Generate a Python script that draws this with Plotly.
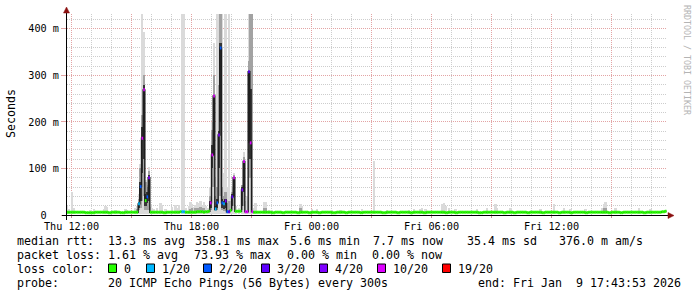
import pandas as pd
import plotly.graph_objects as go

FONT = "DejaVu Sans Mono"
DAY = {"Thu": "2026-01-08", "Fri": "2026-01-09"}


def ts(s):
    d, t = s.split()
    return pd.Timestamp(f"{DAY[d]} {t}")


# ---------------- data ----------------
first_sample = "Thu 11:47:30"   # centre of first 300 s step
step_s = 300

# median rtt (ms), one row per clock hour
median_ms = (
    [6, 6, 6] +                                              # Thu 11
    [6, 6, 6, 6, 6, 6, 6, 6, 5, 5, 5, 5] +                   # Thu 12
    [5, 5, 6, 6, 6, 6, 6, 6, 6, 6, 5, 5] +                   # Thu 13
    [6, 6, 6, 6, 6, 5, 5, 5, 6, 6, 6, 6] +                   # Thu 14
    [6, 6, 6, 6, 24, 61, 165, 269, 31, 39, 80, 6] +          # Thu 15
    [6, 6, 6, 6, 6, 6, 6, 5, 5, 6, 6, 6] +                   # Thu 16
    [6, 6, 6, 6, 6, 7, 7, 7, 6, 6, 6, 6] +                   # Thu 17
    [6, 6, 6, 7, 7, 7, 7, 6, 7, 7, 8, 26] +                  # Thu 18
    [129, 256, 13, 26, 172, 359, 26, 24, 30, 7, 7, 10] +     # Thu 19
    [39, 80, 8, 8, 8, 8, 54, 115, 7, 7, 308, 155] +          # Thu 20
    [7, 6, 6, 6, 6, 6, 6, 6, 6, 6, 6, 6] +                   # Thu 21
    [5, 5, 6, 6, 6, 6, 5, 5, 6, 6, 6, 6] +                   # Thu 22
    [6, 6, 6, 5, 5, 6, 6, 6, 6, 6, 5, 5] +                   # Thu 23
    [6, 6, 6, 6, 5, 5, 6, 6, 6, 6, 6, 6] +                   # Fri 00
    [5, 5, 5, 6, 6, 6, 6, 6, 5, 5, 6, 6] +                   # Fri 01
    [6, 6, 6, 6, 6, 5, 5, 6, 6, 6, 6, 6] +                   # Fri 02
    [6, 6, 6, 6, 6, 6, 5, 5, 5, 6, 6, 6] +                   # Fri 03
    [6, 6, 6, 5, 5, 6, 6, 6, 6, 6, 6, 5] +                   # Fri 04
    [5, 6, 6, 6, 6, 6, 6, 5, 5, 6, 6, 6] +                   # Fri 05
    [6, 6, 6, 6, 6, 6, 6, 6, 5, 5, 6, 6] +                   # Fri 06
    [6, 6, 5, 5, 6, 6, 6, 6, 6, 6, 6, 6] +                   # Fri 07
    [6, 6, 6, 6, 5, 5, 5, 6, 6, 6, 6, 6] +                   # Fri 08
    [6, 6, 6, 6, 6, 6, 6, 5, 5, 6, 6, 6] +                   # Fri 09
    [6, 5, 5, 6, 6, 6, 6, 6, 6, 5, 5, 6] +                   # Fri 10
    [6, 6, 6, 6, 6, 6, 5, 5, 6, 6, 6, 6] +                   # Fri 11
    [6, 6, 6, 6, 5, 5, 6, 6, 6, 6, 6, 5] +                   # Fri 12
    [5, 6, 6, 6, 6, 6, 6, 6, 5, 5, 6, 6] +                   # Fri 13
    [6, 6, 6, 6, 6, 6, 6, 6, 6, 6, 5, 5] +                   # Fri 14
    [6, 6, 6, 6, 6, 5, 5, 6, 6, 6, 6, 6] +                   # Fri 15
    [6, 6, 6, 6, 6, 6, 6, 5, 5, 6, 6, 6] +                   # Fri 16
    [6, 6, 6, 6, 6, 6, 7, 7, 8]                              # Fri 17
)

# packet loss (x/20) for the steps that had any
loss_times = ["Thu 15:22:30", "Thu 15:27:30", "Thu 15:32:30", "Thu 15:37:30",
              "Thu 15:47:30", "Thu 15:52:30", "Thu 17:32:30", "Thu 17:37:30",
              "Thu 18:57:30", "Thu 19:02:30", "Thu 19:07:30", "Thu 19:12:30",
              "Thu 19:17:30", "Thu 19:22:30", "Thu 19:27:30", "Thu 19:32:30",
              "Thu 19:37:30", "Thu 19:42:30", "Thu 19:47:30", "Thu 19:52:30",
              "Thu 20:02:30", "Thu 20:07:30", "Thu 20:32:30", "Thu 20:37:30",
              "Thu 20:42:30", "Thu 20:47:30", "Thu 20:52:30", "Thu 20:57:30",
              "Thu 21:02:30"]
loss_codes = [1, 2, 10, 10, 2, 4, 1, 1,
              10, 10, 10, 1, 2, 4, 2, 2,
              1, 4, 2, 3, 3, 10, 4, 10,
              10, 10, 3, 10, 10]

smoke_floor_ms = 3

# light smoke (all pings) on quiet steps: top of the spread
base_smoke_times = [
    "Thu 11:47:30", "Thu 11:52:30", "Thu 12:02:30", "Thu 12:07:30", "Thu 12:57:30",
    "Thu 13:07:30", "Thu 13:37:30", "Thu 13:42:30", "Thu 13:47:30", "Thu 14:12:30",
    "Thu 14:42:30", "Thu 14:47:30", "Thu 15:12:30", "Thu 15:17:30", "Thu 15:57:30",
    "Thu 16:02:30", "Thu 16:07:30", "Thu 16:17:30", "Thu 16:27:30", "Thu 16:32:30",
    "Thu 16:42:30", "Thu 17:02:30", "Thu 17:12:30", "Thu 17:17:30", "Thu 17:22:30",
    "Thu 17:32:30", "Thu 17:37:30", "Thu 17:42:30", "Thu 17:52:30", "Thu 17:57:30",
    "Thu 18:02:30", "Thu 18:07:30", "Thu 18:12:30", "Thu 18:17:30", "Thu 18:22:30",
    "Thu 18:27:30", "Thu 18:32:30", "Thu 18:37:30", "Thu 18:42:30", "Thu 18:47:30",
    "Thu 18:52:30", "Thu 20:12:30", "Thu 20:22:30", "Thu 20:42:30", "Thu 20:47:30",
    "Thu 21:07:30", "Thu 21:12:30", "Thu 21:37:30", "Thu 21:42:30", "Thu 21:52:30",
    "Thu 22:02:30", "Thu 23:27:30", "Thu 23:32:30", "Fri 00:02:30", "Fri 00:17:30",
    "Fri 01:02:30", "Fri 01:27:30", "Fri 02:32:30", "Fri 03:07:30", "Fri 03:47:30",
    "Fri 04:52:30", "Fri 05:07:30", "Fri 05:27:30", "Fri 05:32:30", "Fri 05:42:30",
    "Fri 06:32:30", "Fri 06:37:30", "Fri 06:42:30", "Fri 06:52:30", "Fri 07:12:30",
    "Fri 08:17:30", "Fri 08:47:30", "Fri 09:12:30", "Fri 09:17:30", "Fri 09:57:30",
    "Fri 11:27:30", "Fri 12:07:30", "Fri 12:37:30", "Fri 12:57:30", "Fri 13:42:30",
    "Fri 14:32:30", "Fri 14:37:30", "Fri 14:42:30", "Fri 15:12:30", "Fri 16:22:30",
    "Fri 16:57:30",
]
base_smoke_hi = [
    20, 12, 50, 15, 10,
    13, 12, 20, 18, 10,
    12, 11, 16, 20, 18,
    15, 12, 14, 25, 22,
    12, 18, 22, 15, 22,
    440, 440, 14, 20, 29,
    24, 18, 22, 29, 26,
    30, 22, 28, 20, 16,
    14, 20, 15, 30, 40,
    15, 25, 29, 27, 11,
    10, 24, 20, 13, 12,
    11, 11, 12, 116, 11,
    11, 12, 13, 15, 13,
    24, 26, 20, 16, 13,
    13, 15, 24, 15, 15,
    13, 24, 15, 13, 13,
    16, 24, 28, 15, 14,
    13,
]

# mid-grey smoke on quiet steps
base_mid_times = ["Thu 15:17:30", "Thu 17:57:30", "Thu 18:02:30", "Thu 18:12:30",
                  "Thu 18:17:30", "Thu 18:22:30", "Thu 18:27:30", "Thu 18:32:30",
                  "Thu 18:37:30", "Thu 19:47:30", "Thu 19:52:30", "Thu 21:37:30",
                  "Thu 21:42:30", "Thu 23:27:30", "Fri 14:37:30", "Fri 14:42:30"]
base_mid_hi = [12, 12, 14, 15, 16, 14, 18, 15, 16, 25, 30, 15, 14, 15, 14, 16]

# smoke spread on the disturbed steps (ms)
spike_times = ["Thu 15:22:30", "Thu 15:27:30", "Thu 15:32:30", "Thu 15:37:30",
               "Thu 15:42:30", "Thu 15:47:30", "Thu 15:52:30", "Thu 18:57:30",
               "Thu 19:02:30", "Thu 19:07:30", "Thu 19:12:30", "Thu 19:17:30",
               "Thu 19:22:30", "Thu 19:27:30", "Thu 19:32:30", "Thu 19:37:30",
               "Thu 19:42:30", "Thu 19:47:30", "Thu 19:52:30", "Thu 19:57:30",
               "Thu 20:02:30", "Thu 20:07:30", "Thu 20:32:30", "Thu 20:37:30",
               "Thu 20:52:30", "Thu 20:57:30", "Thu 21:02:30"]
spike_light_hi = [45, 110, 440, 394, 75, 65, 104, 60,
                  200, 370, 80, 440, 440, 440, 440, 90,
                  440, 60, 440, 30, 60, 90, 64, 136,
                  440, 440, 440]
spike_mid_lo = [10, 15, 30, 40, 10, 10, 10, 10,
                60, 60, 8, 10, 60, 40, 10, 8,
                8, None, None, None, 10, 20, 10, 20,
                133, 80, 8]
spike_mid_hi = [35, 100, 215, 300, 70, 60, 95, 40,
                183, 300, 40, 60, 280, 440, 60, 40,
                50, None, None, None, 50, 85, 64, 125,
                330, 440, 440]
spike_dark_lo = [15, 30, 90, 120, 20, 25, 30, 15,
                 100, 130, 10, 15, 100, 200, 15, 12,
                 15, None, None, None, 20, 40, 20, 50,
                 155, 120, None]
spike_dark_hi = [28, 70, 190, 280, 45, 50, 85, 30,
                 150, 256, 20, 35, 180, 370, 35, 30,
                 35, None, None, None, 45, 80, 60, 115,
                 308, 270, None]

loss_palette = {0: "#26ff00", 1: "#00b8ff", 2: "#0059ff", 3: "#5e00ff",
                4: "#7e00ff", 10: "#dd00ff", 19: "#ff0000"}
legend_codes = [0, 1, 2, 3, 4, 10, 19]
legend_labels = ["0", "1/20", "2/20", "3/20", "4/20", "10/20", "19/20"]

y_tick_vals = [0, 100, 200, 300, 400]
y_tick_text = ["0\u00a0\u00a0", "100 m", "200 m", "300 m", "400 m"]
x_tick_vals = ["Thu 12:00", "Thu 15:00", "Thu 18:00", "Thu 21:00", "Fri 00:00",
               "Fri 03:00", "Fri 06:00", "Fri 09:00", "Fri 12:00", "Fri 15:00"]
x_tick_text = ["Thu 12:00", "", "Thu 18:00", "", "Fri 00:00",
               "", "Fri 06:00", "", "Fri 12:00", ""]

legend_rtt = ["median rtt:", "13.3 ms avg", "358.1 ms max", "5.6 ms min",
              "7.7 ms now", "35.4 ms sd", "376.0 m am/s"]
legend_loss = ["packet loss:", "1.61 % avg", "73.93 % max", "0.00 % min", "0.00 % now"]
probe_text = "20 ICMP Echo Pings (56 Bytes) every 300s"
end_text = "end: Fri Jan\u00a0\u00a09 17:43:53 2026"

# ---------------- layout geometry (pixels) ----------------
W_FIG, H_FIG = 697, 297
L, R, T, B = 67, 30, 14, 82
PW, PH = W_FIG - L - R, H_FIG - T - B


def PX(x):
    return (x - L) / PW


def PY(y):
    return (T + PH - y) / PH


# ---------------- figure ----------------
times = pd.date_range(ts(first_sample), periods=len(median_ms), freq=f"{step_s}s")
half = pd.Timedelta(seconds=step_s / 2)
bar_w = step_s * 1000

fig = go.Figure()


def add_bars(tlist, lo, hi, color):
    xs, bases, hs = [], [], []
    for t, a, b in zip(tlist, lo, hi):
        if a is None or b is None:
            continue
        xs.append(ts(t))
        bases.append(a)
        hs.append(b - a)
    fig.add_trace(go.Bar(x=xs, y=hs, base=bases, width=bar_w,
                         marker=dict(color=color, line=dict(width=0)),
                         hoverinfo="skip"))


LIGHT, MID, DARK = "#dadada", "#a2a2a2", "#353535"
add_bars(base_smoke_times, [smoke_floor_ms] * len(base_smoke_times), base_smoke_hi, LIGHT)
add_bars(spike_times, [smoke_floor_ms] * len(spike_times), spike_light_hi, LIGHT)
add_bars(base_mid_times, [smoke_floor_ms + 1] * len(base_mid_times), base_mid_hi, MID)
add_bars(spike_times, spike_mid_lo, spike_mid_hi, MID)
add_bars(spike_times, spike_dark_lo, spike_dark_hi, DARK)

# dark median step line
fig.add_trace(go.Scatter(
    x=list(times - half) + [times[-1] + half],
    y=median_ms + [median_ms[-1]],
    mode="lines", line=dict(color="#1c1c1c", width=1.4, shape="hv"),
    hoverinfo="skip"))

# coloured median marks by loss
loss_map = {ts(t): c for t, c in zip(loss_times, loss_codes)}
for code, color in loss_palette.items():
    xs, ys = [], []
    for t, m in zip(times, median_ms):
        if loss_map.get(t, 0) == code:
            xs += [t - half, t + half, None]
            ys += [m, m, None]
    if xs:
        fig.add_trace(go.Scatter(x=xs, y=ys, mode="lines",
                                 line=dict(color=color, width=3),
                                 hoverinfo="skip"))

MAJOR = "#e3a4a4"
MINOR = "#cdcdcd"
x_start = ts("Thu 11:46:30")
x_end = x_start + pd.Timedelta(hours=30)

fig.update_xaxes(
    type="date", range=[x_start, x_end],
    tickvals=[ts(v) for v in x_tick_vals], ticktext=x_tick_text,
    showgrid=True, gridcolor=MAJOR, gridwidth=1, griddash="1px,1px",
    minor=dict(dtick=3600000, tick0=ts("Thu 00:00"), showgrid=True,
               gridcolor=MINOR, gridwidth=1, griddash="1px,1px"),
    ticks="outside", ticklen=2, tickcolor="#c89090", tickwidth=1,
    showline=False, zeroline=False, fixedrange=True,
    tickfont=dict(family=FONT, size=10.2, color="black"),
)
fig.update_yaxes(
    range=[0, 432], tickvals=y_tick_vals, ticktext=y_tick_text,
    showgrid=True, gridcolor=MAJOR, gridwidth=1, griddash="1px,1px",
    minor=dict(dtick=20, showgrid=True, gridcolor=MINOR, gridwidth=1,
               griddash="1px,1px"),
    ticks="outside", ticklen=5, tickcolor=MAJOR, tickwidth=1,
    showline=False, zeroline=False, fixedrange=True,
    tickfont=dict(family=FONT, size=10.2, color="black"),
)

AX = "#8b1010"
shapes = [
    dict(type="line", xref="paper", yref="paper", x0=PX(66.5), x1=PX(66.5),
         y0=PY(220), y1=PY(10), line=dict(color="black", width=1)),
    dict(type="line", xref="paper", yref="paper", x0=PX(62), x1=PX(669),
         y0=PY(215.5), y1=PY(215.5), line=dict(color="black", width=1)),
    dict(type="path", xref="paper", yref="paper",
         path=f"M {PX(63.5)},{PY(13)} L {PX(66.5)},{PY(7)} L {PX(69.5)},{PY(13)} Z",
         fillcolor=AX, line=dict(color=AX, width=0.5)),
    dict(type="path", xref="paper", yref="paper",
         path=f"M {PX(668)},{PY(212.5)} L {PX(674)},{PY(215.5)} L {PX(668)},{PY(218.5)} Z",
         fillcolor=AX, line=dict(color=AX, width=0.5)),
]

annotations = []


def text(x, y, s, size=11.63, color="black", angle=0, xanchor="left"):
    annotations.append(dict(
        xref="paper", yref="paper", x=PX(x), y=PY(y), text=s, showarrow=False,
        xanchor=xanchor, yanchor="middle", textangle=angle, borderpad=0,
        font=dict(family=FONT, size=size, color=color)))


# legend rows
LEG_Y = [240.7, 254.7, 268.7, 282.5]
rtt_x = [16, 106.5, 194, 289, 372, 466, 557.5]
for x, s in zip(rtt_x, legend_rtt):
    text(x, LEG_Y[0], s)
loss_x = [16, 106.5, 193, 286, 371.5]
for x, s in zip(loss_x, legend_loss):
    text(x, LEG_Y[1], s)
text(16, LEG_Y[2], "loss color:")
box_x = [108.5, 146.5, 203.5, 261.5, 319.5, 377.5, 442.5]
for bx, code, lab in zip(box_x, legend_codes, legend_labels):
    shapes.append(dict(type="rect", xref="paper", yref="paper",
                       x0=PX(bx), x1=PX(bx + 8), y0=PY(272.5), y1=PY(264),
                       fillcolor=loss_palette[code], line=dict(color="black", width=1)))
    text(bx + 14.2, LEG_Y[2], lab)
text(16, LEG_Y[3], "probe:")
text(106.5, LEG_Y[3], probe_text)
text(476.5, LEG_Y[3], end_text)

# axis title and watermark
text(11, 114, "Seconds", angle=-90, xanchor="center")
text(687, 60, "RRDTOOL / TOBI OETIKER", size=8.3, color="#b4b4b4", angle=90,
     xanchor="center")

fig.update_layout(
    width=W_FIG, height=H_FIG,
    margin=dict(l=L, r=R, t=T, b=B, pad=0),
    paper_bgcolor="white", plot_bgcolor="white",
    showlegend=False, barmode="overlay", bargap=0,
    font=dict(family=FONT, size=10.2, color="black"),
    shapes=shapes, annotations=annotations,
)

fig.write_html("out.html")
